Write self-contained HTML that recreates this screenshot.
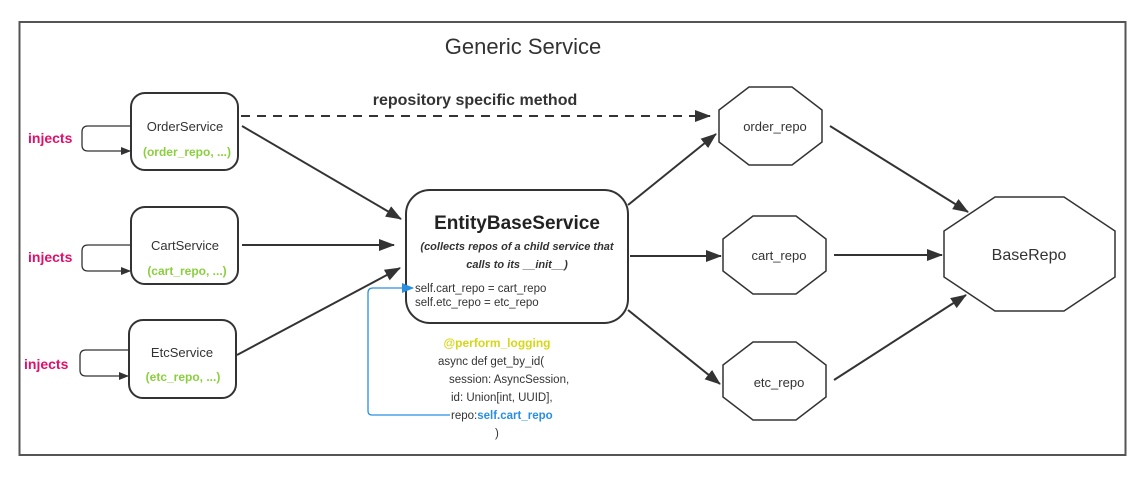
<!DOCTYPE html>
<html><head><meta charset="utf-8"><style>
html,body{margin:0;padding:0;background:#fff;}
svg{display:block;font-family:"Liberation Sans","DejaVu Sans",sans-serif;}
</style></head><body>
<svg width="1145" height="482" viewBox="0 0 1145 482" xmlns="http://www.w3.org/2000/svg">
<defs>
<marker id="a" markerWidth="10" markerHeight="8" refX="9" refY="4" orient="auto" markerUnits="userSpaceOnUse" viewBox="0 0 10 8"><path d="M0,0 L10,4 L0,8 z" fill="#333"/></marker>
<marker id="big" markerWidth="16" markerHeight="12" refX="15" refY="6" orient="auto" markerUnits="userSpaceOnUse" viewBox="0 0 16 12"><path d="M0,0 L16,6 L0,12 z" fill="#333"/></marker>
<marker id="bl" markerWidth="12" markerHeight="10" refX="11" refY="5" orient="auto" markerUnits="userSpaceOnUse" viewBox="0 0 12 10"><path d="M0,0 L12,5 L0,10 z" fill="#2a8fe0"/></marker>
</defs>
<rect x="19.5" y="22" width="1106" height="433" fill="#fff" stroke="#555" stroke-width="2"/>
<text x="523" y="54" font-size="22" text-anchor="middle" fill="#333">Generic Service</text>
<text x="475" y="105" font-size="16" font-weight="bold" text-anchor="middle" fill="#333">repository specific method</text>

<!-- service boxes -->
<g fill="#fff" stroke="#333" stroke-width="2">
<rect x="131" y="93" width="107" height="77" rx="14"/>
<rect x="131" y="207" width="107" height="77" rx="14"/>
<rect x="129" y="320" width="107" height="78" rx="14"/>
<rect x="406" y="190" width="222" height="133" rx="24"/>
</g>
<g font-size="13" text-anchor="middle" fill="#333">
<text x="185" y="131">OrderService</text>
<text x="185" y="250">CartService</text>
<text x="182" y="357">EtcService</text>
</g>
<g font-size="12" font-weight="bold" text-anchor="middle" fill="#8bcf3f">
<text x="187" y="156">(order_repo, ...)</text>
<text x="187" y="275">(cart_repo, ...)</text>
<text x="183" y="381">(etc_repo, ...)</text>
</g>
<g font-size="14" font-weight="bold" fill="#e0106a">
<text x="28" y="143">injects</text>
<text x="28" y="262">injects</text>
<text x="24" y="369">injects</text>
</g>
<g fill="none" stroke="#333" stroke-width="1.3">
<path d="M131,126 H88 Q82,126 82,132 V145 Q82,151 88,151 H130" marker-end="url(#a)"/>
<path d="M131,245 H88 Q82,245 82,251 V265 Q82,271 88,271 H130" marker-end="url(#a)"/>
<path d="M129,350 H86 Q80,350 80,356 V370 Q80,376 86,376 H128" marker-end="url(#a)"/>
</g>

<text x="517" y="229" font-size="19" font-weight="bold" text-anchor="middle" fill="#222">EntityBaseService</text>
<text x="517" y="250" font-size="11" font-weight="bold" font-style="italic" text-anchor="middle" fill="#333">(collects repos of a child service that</text>
<text x="517" y="268" font-size="11" font-weight="bold" font-style="italic" text-anchor="middle" fill="#333">calls to its __init__)</text>
<text x="415" y="292" font-size="11.5" fill="#333">self.cart_repo = cart_repo</text>
<text x="415" y="306" font-size="11.5" fill="#333">self.etc_repo = etc_repo</text>

<text x="497" y="347" font-size="12" font-weight="bold" text-anchor="middle" fill="#d6d61a">@perform_logging</text>
<g font-size="11.5" fill="#333">
<text x="438" y="365">async def get_by_id(</text>
<text x="449" y="383">session: AsyncSession,</text>
<text x="451" y="401">id: Union[int, UUID],</text>
<text x="451" y="419">repo:<tspan fill="#2a8fe0" font-weight="bold">self.cart_repo</tspan></text>
<text x="495" y="437">)</text>
</g>
<path d="M450,415 H372 Q368,415 368,411 V293 Q368,288 373,288 H413" fill="none" stroke="#2a8fe0" stroke-width="1.3" marker-end="url(#bl)"/>

<!-- octagons -->
<g fill="#fff" stroke="#333" stroke-width="1.5">
<polygon points="749,87 792,87 822,110 822,142 792,165 749,165 719,142 719,110"/>
<polygon points="753,216 796,216 826,239 826,271 796,294 753,294 723,271 723,239"/>
<polygon points="753,342 796,342 826,365 826,397 796,420 753,420 723,397 723,365"/>
<polygon points="995,197 1064,197 1115,231 1115,277 1064,311 995,311 944,277 944,231"/>
</g>
<g font-size="13" text-antchor="middle" text-anchor="middle" fill="#333">
<text x="775" y="131">order_repo</text>
<text x="779" y="260">cart_repo</text>
<text x="779" y="387">etc_repo</text>
<text x="1029" y="260" font-size="16">BaseRepo</text>
</g>

<!-- connectors -->
<g stroke="#333" stroke-width="2" fill="none">
<path d="M241,116 H710" stroke-dasharray="9,7" marker-end="url(#big)"/>
<path d="M242,126 L401,219" marker-end="url(#big)"/>
<path d="M242,245 L394,245" marker-end="url(#big)"/>
<path d="M237,355 L400,268" marker-end="url(#big)"/>
<path d="M628,205 L716,134" marker-end="url(#big)"/>
<path d="M630,256 L721,256" marker-end="url(#big)"/>
<path d="M628,310 L720,384" marker-end="url(#big)"/>
<path d="M830,126 L968,212" marker-end="url(#big)"/>
<path d="M834,255 L942,255" marker-end="url(#big)"/>
<path d="M834,380 L966,295" marker-end="url(#big)"/>
</g>
</svg>
</body></html>
